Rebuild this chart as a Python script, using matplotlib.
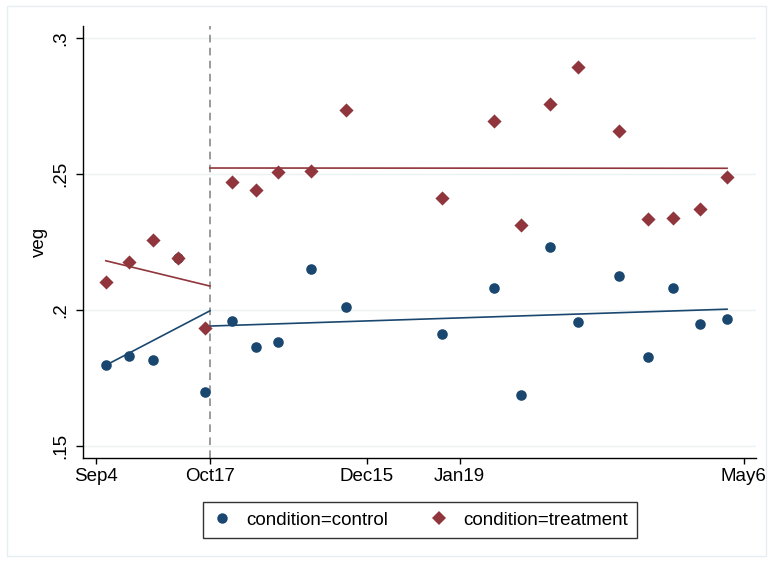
import numpy as np
import matplotlib
matplotlib.use('Agg')
import matplotlib.pyplot as plt
from matplotlib.lines import Line2D
from matplotlib.patches import Rectangle

plt.rcParams['font.family'] = ['Liberation Sans', 'DejaVu Sans']

# survey waves, days since Sep 4
days = [3.8, 12.7, 21.5, 31.0, 41.2, 51.2, 60.4, 68.8, 81.2, 94.2,
        130.5, 150.1, 160.3, 171.2, 181.4, 196.9, 208.1, 217.4, 227.6, 237.7]

veg_control = [0.1797, 0.1832, 0.1815, 0.2190, 0.1700, 0.1960, 0.1864, 0.1883, 0.2150, 0.2010,
               0.1913, 0.2082, 0.1689, 0.2232, 0.1956, 0.2125, 0.1827, 0.2080, 0.1947, 0.1966]
veg_treatment = [0.2103, 0.2176, 0.2257, 0.2191, 0.1935, 0.2472, 0.2441, 0.2506, 0.2512, 0.2736,
                 0.2411, 0.2694, 0.2311, 0.2756, 0.2892, 0.2657, 0.2335, 0.2339, 0.2370, 0.2488]

# fitted values at the start and end of each period
cutoff = 43  # Oct17
fit_control_pre = [0.1797, 0.1997]
fit_control_post = [0.1941, 0.2003]
fit_treat_pre = [0.2181, 0.2088]
fit_treat_post = [0.2522, 0.2521]

tick_days = [0, 43, 102, 137, 244]
tick_labels = ['Sep4', 'Oct17', 'Dec15', 'Jan19', 'May6']
y_ticks = [0.15, 0.2, 0.25, 0.3]
y_labels = ['.15', '.2', '.25', '.3']

navy = '#1a476f'
maroon = '#90353b'

fig = plt.figure(figsize=(7.73, 5.62), dpi=100)
ax = fig.add_axes([83 / 773, 1 - 458 / 562, 673 / 773, 432 / 562])

# outer graph frame
fig.patches.append(Rectangle((7 / 773, 1 - 556 / 562), 759 / 773, 550 / 562,
                             transform=fig.transFigure, fill=False,
                             edgecolor='#e6eef1', lw=1))

ax.set_xlim(-4.8, 248.6)
ax.set_ylim(0.14559, 0.30441)

for y in y_ticks:
    ax.axhline(y, color='#eaf2f3', lw=1, zorder=0)

ax.scatter(days, veg_control, marker='o', s=58, color=navy, lw=0, zorder=3)
ax.scatter(days, veg_treatment, marker='D', s=52, color=maroon, lw=0, zorder=4)

x_pre = [days[0], cutoff]
x_post = [cutoff, days[-1]]
ax.plot(x_pre, fit_control_pre, color=navy, lw=1.2, zorder=2)
ax.plot(x_post, fit_control_post, color=navy, lw=1.2, zorder=2)
ax.plot(x_pre, fit_treat_pre, color=maroon, lw=1.2, zorder=2)
ax.plot(x_post, fit_treat_post, color=maroon, lw=1.2, zorder=2)

ax.axvline(cutoff, color='#808080', lw=1.1, ls=(0, (5, 3.5)), zorder=1)

ax.spines['top'].set_visible(False)
ax.spines['right'].set_visible(False)
ax.spines['left'].set_linewidth(1)
ax.spines['bottom'].set_linewidth(1)

ax.set_xticks(tick_days)
ax.set_xticklabels(tick_labels, fontsize=13.5)
ax.set_yticks(y_ticks)
ax.set_yticklabels(y_labels, fontsize=13.5)
ax.tick_params(axis='x', length=4.5, width=1, pad=3)
ax.tick_params(axis='y', length=5, width=1, pad=5, labelrotation=90)
for lab in ax.get_yticklabels():
    lab.set_verticalalignment('center')

ax.set_ylabel('veg', fontsize=13.5)
ax.yaxis.set_label_coords(-0.052, 0.5)

handles = [
    Line2D([], [], marker='o', ls='', color=navy, markersize=7.5, markeredgewidth=0),
    Line2D([], [], marker='D', ls='', color=maroon, markersize=7, markeredgewidth=0),
]
leg = fig.legend(handles, ['condition=control', 'condition=treatment'],
                 loc='center', bbox_to_anchor=(420 / 773, 1 - 520 / 562),
                 ncol=2, fontsize=13.5, frameon=True, fancybox=False,
                 handlelength=1.0, handletextpad=0.8, columnspacing=2.2,
                 borderpad=0.5, edgecolor='black')
leg.get_frame().set_linewidth(1)

fig.savefig('out.png', dpi=100)
